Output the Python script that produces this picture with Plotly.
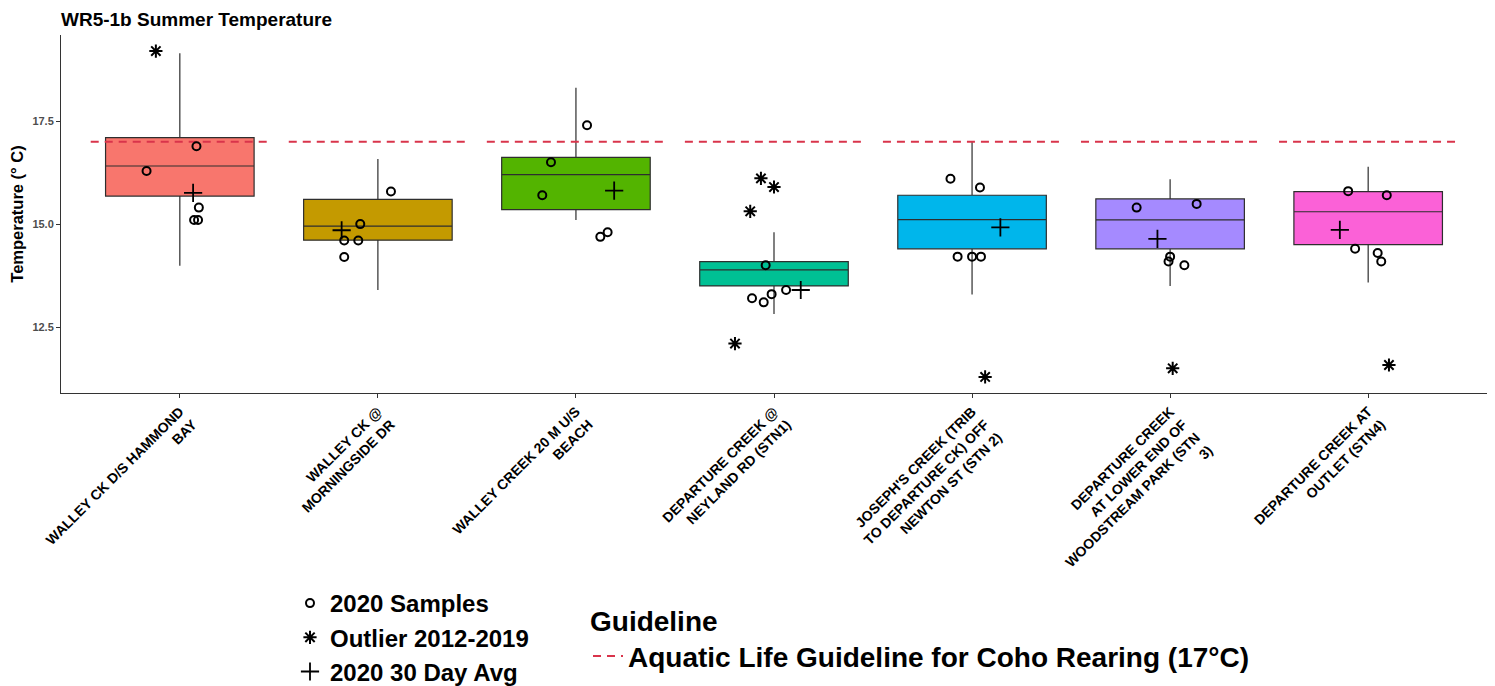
import plotly.graph_objects as go

# ---------------- data ----------------
categories = [
    "WALLEY CK D/S HAMMOND<br>BAY",
    "WALLEY CK @<br>MORNINGSIDE DR",
    "WALLEY CREEK 20 M U/S<br>BEACH",
    "DEPARTURE CREEK @<br>NEYLAND RD (STN1)",
    "JOSEPH'S CREEK (TRIB<br>TO DEPARTURE CK) OFF<br>NEWTON ST (STN 2)",
    "DEPARTURE CREEK<br>AT LOWER END OF<br>WOODSTREAM PARK (STN<br>3)",
    "DEPARTURE CREEK AT<br>OUTLET (STN4)",
]
box_colors = ["#F8766D", "#C49A00", "#53B400", "#00C094", "#00B6EB", "#A58AFF", "#FB61D7"]

box_q1 = [15.68, 14.61, 15.35, 13.50, 14.40, 14.40, 14.50]
box_median = [16.41, 14.95, 16.20, 13.89, 15.11, 15.10, 15.30]
box_q3 = [17.10, 15.60, 16.62, 14.09, 15.70, 15.61, 15.79]
whisker_low = [13.99, 13.40, 15.10, 12.82, 13.29, 13.50, 13.58]
whisker_high = [19.15, 16.58, 18.31, 14.80, 17.00, 16.09, 16.39]

# 2020 samples (category index, jitter, value)
sample_cat = [0, 0, 0, 0, 0, 1, 1, 1, 1, 1, 2, 2, 2, 2, 2, 3, 3, 3, 3, 3,
              4, 4, 4, 4, 4, 5, 5, 5, 5, 5, 6, 6, 6, 6, 6]
sample_jitter = [-0.168, 0.084, 0.096, 0.072, 0.092,
                 0.066, -0.089, -0.170, -0.099, -0.170,
                 0.056, -0.126, -0.170, 0.123, 0.160,
                 -0.042, -0.111, -0.052, -0.012, 0.061,
                 -0.109, 0.040, -0.073, 0.000, 0.045,
                 -0.169, 0.134, 0.000, -0.008, 0.072,
                 -0.101, 0.094, -0.066, 0.048, 0.066]
sample_value = [16.29, 16.89, 15.40, 15.10, 15.10,
                15.79, 15.00, 14.60, 14.60, 14.20,
                17.40, 16.50, 15.70, 14.69, 14.80,
                14.00, 13.20, 13.10, 13.30, 13.40,
                16.10, 15.89, 14.21, 14.21, 14.21,
                15.40, 15.49, 14.21, 14.09, 14.00,
                15.80, 15.70, 14.40, 14.30, 14.09]

# outliers 2012-2019
outlier_cat = [0, 3, 3, 3, 3, 4, 5, 6]
outlier_jitter = [-0.121, -0.066, 0.000, -0.120, -0.197, 0.066, 0.013, 0.105]
outlier_value = [19.20, 16.11, 15.90, 15.31, 12.10, 11.29, 11.50, 11.58]

# 2020 30 day average
avg_cat = [0, 1, 2, 3, 4, 5, 6]
avg_jitter = [0.067, -0.183, 0.193, 0.135, 0.143, -0.064, -0.143]
avg_value = [15.76, 14.85, 15.81, 13.40, 14.92, 14.64, 14.86]

guideline_value = 17.0
guideline_halfwidth = 0.45

y_ticks = [12.5, 15.0, 17.5]

# ---------------- figure ----------------
FONT = "Liberation Sans, Arial, sans-serif"
fig = go.Figure()

for i in range(len(categories)):
    fig.add_trace(go.Box(
        x=[i], q1=[box_q1[i]], median=[box_median[i]], q3=[box_q3[i]],
        lowerfence=[whisker_low[i]], upperfence=[whisker_high[i]],
        width=0.75, whiskerwidth=0, fillcolor=box_colors[i],
        line=dict(color="#2E2E2E", width=1.2), boxpoints=False,
        showlegend=False, hoverinfo="skip",
    ))

gx, gy = [], []
for i in range(len(categories)):
    gx += [i - guideline_halfwidth, i + guideline_halfwidth, None]
    gy += [guideline_value, guideline_value, None]
fig.add_trace(go.Scatter(
    x=gx, y=gy, mode="lines",
    line=dict(color="#D9344B", width=2, dash="8px,6px"),
    name="Aquatic Life Guideline for Coho Rearing (17°C)",
    legend="legend2",
))

fig.add_trace(go.Scatter(
    x=[c + j for c, j in zip(sample_cat, sample_jitter)], y=sample_value,
    mode="markers", name="2020 Samples",
    marker=dict(symbol="circle-open", size=8, color="black", line=dict(width=2, color="black")),
))
fig.add_trace(go.Scatter(
    x=[c + j for c, j in zip(outlier_cat, outlier_jitter)], y=outlier_value,
    mode="markers", name="Outlier 2012-2019",
    marker=dict(symbol="asterisk-open", size=11, color="black", line=dict(width=2, color="black")),
))
fig.add_trace(go.Scatter(
    x=[c + j for c, j in zip(avg_cat, avg_jitter)], y=avg_value,
    mode="markers", name="2020 30 Day Avg",
    marker=dict(symbol="cross-thin-open", size=13, color="black", line=dict(width=1.8, color="black")),
))

# The page places the figure 8px in from the top-left corner; positions below are
# given in screen pixels and converted to figure coordinates.
OFF = 8
PLOT_LEFT, PLOT_RIGHT = 61 - OFF, 1487 - OFF
PLOT_TOP, PLOT_BOTTOM = 35 - OFF, 393 - OFF
W, H = 1495, 686

def paper_y(screen_px):
    return (PLOT_BOTTOM - (screen_px - OFF)) / (PLOT_BOTTOM - PLOT_TOP)

def paper_x(screen_px):
    return ((screen_px - OFF) - PLOT_LEFT) / (PLOT_RIGHT - PLOT_LEFT)

fig.update_layout(
    width=W, height=H,
    margin=dict(l=PLOT_LEFT, r=W - PLOT_RIGHT, t=PLOT_TOP, b=H - PLOT_BOTTOM, autoexpand=False),
    plot_bgcolor="white", paper_bgcolor="white",
    font=dict(family=FONT, color="black"),
    title=dict(text="WR5-1b Summer Temperature", x=0, xref="paper", xanchor="left",
               y=1 - (19.5 - OFF) / H, yref="container", yanchor="middle",
               font=dict(size=19, weight="bold", color="black", family=FONT)),
    xaxis=dict(range=[-0.6, 6.6], tickmode="array", tickvals=list(range(len(categories))),
               ticktext=categories, tickangle=-45, showgrid=False, zeroline=False,
               showline=True, linecolor="#333333", linewidth=1, automargin=False,
               ticks="outside", ticklen=4, tickcolor="#333333",
               tickfont=dict(size=14, weight="bold", color="black", family=FONT)),
    yaxis=dict(range=[10.90, 19.59], tickvals=y_ticks, ticktext=["12.5", "15.0", "17.5"],
               showgrid=False, zeroline=False, showline=True, linecolor="#333333", linewidth=1,
               automargin=False,
               ticks="outside", ticklen=4, tickcolor="#333333",
               tickfont=dict(size=11, weight="bold", color="#4D4D4D", family=FONT),
               title=dict(text="Temperature (° C)", standoff=12,
                          font=dict(size=16.5, weight="bold", color="black", family=FONT))),
    legend=dict(x=paper_x(290), y=paper_y(581), xanchor="left", yanchor="top", orientation="v",
                font=dict(size=24, weight="bold", color="black", family=FONT),
                bgcolor="rgba(0,0,0,0)"),
    legend2=dict(x=paper_x(588), y=paper_y(595), xanchor="left", yanchor="top", orientation="v",
                 title=dict(text="Guideline", side="top",
                            font=dict(size=28, weight="bold", color="black", family=FONT)),
                 font=dict(size=28, weight="bold", color="black", family=FONT),
                 bgcolor="rgba(0,0,0,0)"),
)

fig.write_html("out.html")
